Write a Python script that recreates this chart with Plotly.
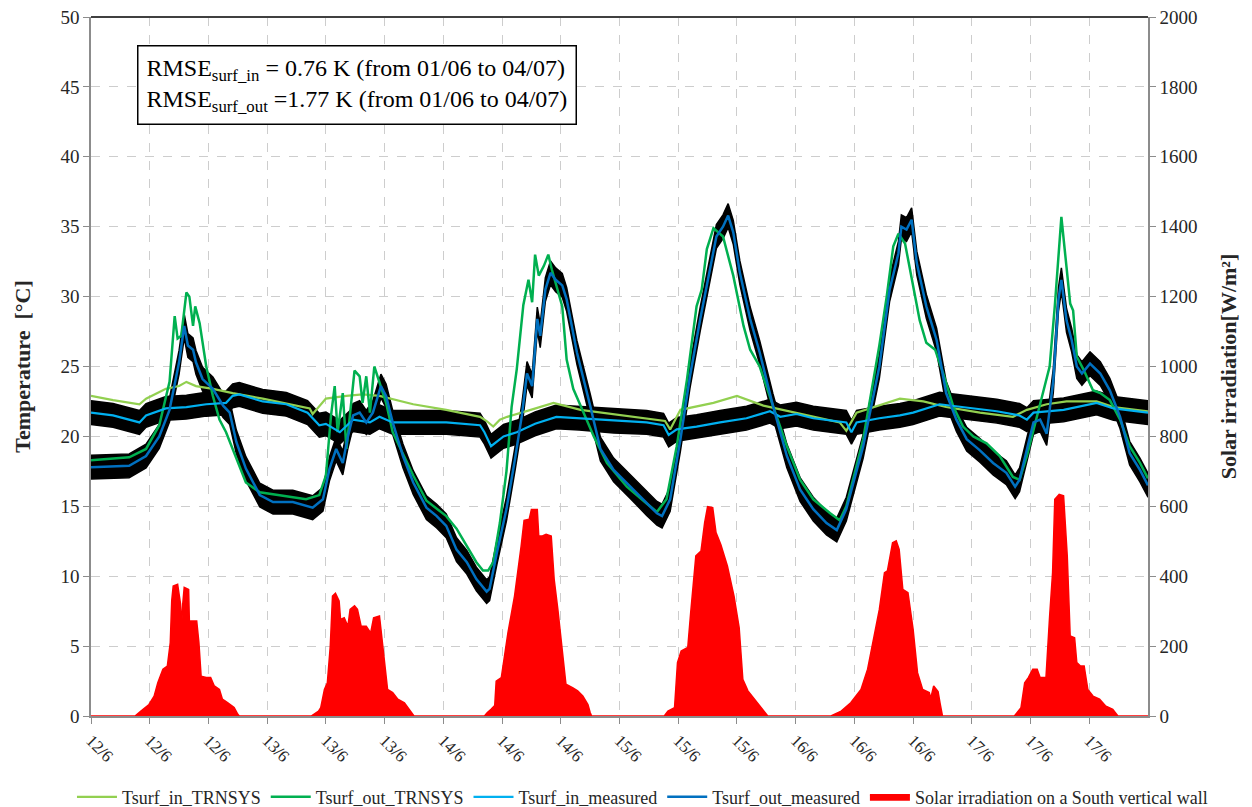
import numpy as np
import plotly.graph_objects as go

# ---- time axis (hours from 12/6 00:00) and tick labels ----
tick_hours = list(range(0, 137, 8))
tick_labels = ["12/6", "12/6", "12/6", "13/6", "13/6", "13/6", "14/6", "14/6", "14/6",
               "15/6", "15/6", "15/6", "16/6", "16/6", "16/6", "17/6", "17/6", "17/6"]

# ---- Tsurf_in_TRNSYS ----
in_trnsys_h = [0, 3, 6.6, 7.5, 10.2, 12, 13, 14.3, 16.6, 19.3, 23.4, 28, 29.8, 30.2, 32, 34.8,
               37, 39.3, 43.9, 48.4, 53, 53.9, 54.8, 55.7, 56.7, 59.9, 63, 66.7, 71.2, 75.7,
               78.2, 78.9, 80.3, 84.8, 88, 91.6, 96.1, 102, 102.9, 104.3, 110.2, 113.4, 116.5,
               121.1, 125.6, 127.5, 130.2, 132.9, 137, 139.3, 144]
in_trnsys_T = [22.9, 22.6, 22.3, 22.7, 23.4, 23.6, 23.9, 23.6, 23.4, 23.1, 22.7, 22.2, 22.0,
               21.6, 22.7, 22.9, 23.0, 22.9, 22.3, 21.9, 21.4, 21.1, 20.7, 21.2, 21.4, 21.9,
               22.4, 21.9, 21.6, 21.3, 21.1, 20.5, 21.9, 22.4, 22.9, 22.2, 21.7, 21.0, 20.4,
               21.7, 22.7, 22.5, 22.1, 21.7, 21.4, 21.9, 22.3, 22.5, 22.5, 22.1, 21.8]

# ---- Tsurf_out_TRNSYS ----
out_trnsys_h = [0, 5.2, 7.5, 9.3, 10.7, 11.4, 11.8, 12.3, 13.0, 13.4, 13.9, 14.2, 14.8, 15.7,
                16.6, 17.5, 18.4, 19.8, 21.1, 23.0, 25.7, 29.3, 31.1, 32.0, 32.7, 33.2, 33.6,
                34.3, 34.8, 35.9, 36.6, 37.0, 37.5, 38.0, 38.6, 39.3, 40.2, 41.1, 42.5, 43.9,
                45.7, 47.1, 48.4, 49.8, 51.2, 52.5, 53.4, 54.1, 54.8, 55.7, 56.6, 57.3, 58.0,
                58.9, 59.6, 60.1, 60.5, 61.0, 61.7, 62.3, 62.8, 63.5, 64.2, 64.8, 65.7, 66.7,
                68.5, 70.3, 73.0, 75.7, 77.1, 78.4, 79.8, 81.2, 82.5, 83.2, 83.9, 84.8, 86.1,
                87.5, 88.9, 89.8, 91.1, 92.9, 94.8, 96.6, 98.4, 100.7, 102.0, 102.9, 105.2,
                107.4, 108.4, 109.3, 110.0, 110.9, 112.0, 112.9, 113.8, 115.0, 116.1, 117.5,
                118.8, 120.2, 122.0, 123.8, 125.6, 126.5, 127.5, 128.8, 130.6, 131.3, 132.2,
                132.9, 133.4, 133.8, 134.3, 135.2, 136.5, 137.5, 138.8, 140.2, 141.5, 142.9, 144]
out_trnsys_T = [18.3, 18.5, 19.1, 20.8, 23.9, 28.6, 27.0, 27.2, 30.3, 30.0, 27.9, 29.3, 28.1,
                25.0, 22.9, 21.2, 20.3, 18.4, 16.7, 16.0, 15.8, 15.5, 15.8, 17.2, 21.5, 23.6,
                20.3, 23.1, 19.1, 24.7, 24.3, 22.4, 24.3, 21.7, 25.0, 23.8, 22.4, 20.3, 18.8,
                17.2, 15.4, 14.8, 14.3, 13.4, 12.2, 11.0, 10.4, 10.4, 11.0, 13.8, 17.5, 22.1,
                24.8, 29.4, 31.2, 29.6, 33.0, 31.5, 32.2, 33.0, 31.9, 30.5, 29.3, 25.5, 23.4,
                22.2, 20.0, 18.1, 16.4, 15.2, 14.6, 15.5, 19.3, 24.1, 29.3, 30.5, 33.4, 34.9,
                34.3, 31.5, 27.9, 26.2, 25.0, 22.2, 19.3, 16.9, 15.5, 14.5, 14.0, 15.0, 19.8,
                26.5, 30.0, 33.6, 34.5, 33.8, 30.7, 28.3, 26.7, 26.2, 24.5, 22.1, 20.7, 20.0,
                19.5, 18.6, 17.1, 16.9, 18.6, 21.2, 25.0, 29.3, 35.7, 32.1, 29.5, 29.0, 25.7,
                24.8, 23.3, 23.1, 22.6, 21.2, 19.3, 18.1, 17.0]

# ---- Tsurf_in_measured ----
in_meas_h = [0, 3, 6.6, 7.5, 10.2, 13.0, 15.7, 18.4, 19.3, 20.2, 23.4, 26.6, 29.5, 31.1, 32.0,
             33.9, 35.7, 38.0, 39.3, 41.1, 43.9, 48.4, 53.0, 53.6, 54.5, 55.7, 56.2, 58.0,
             60.5, 63.4, 66.5, 71.2, 75.7, 78.0, 78.7, 79.8, 82.5, 85.7, 89.3, 92.5, 93.9,
             96.1, 98.4, 102.9, 103.6, 104.3, 107.4, 110.2, 112.0, 115.6, 118.8, 123.4,
             126.5, 127.5, 128.4, 132.5, 137.0, 139.3, 144]
in_meas_T = [21.7, 21.5, 21.0, 21.5, 22.0, 22.1, 22.3, 22.4, 22.9, 23.0, 22.5, 22.3, 21.7,
             20.8, 20.9, 20.3, 21.2, 21.0, 21.4, 21.0, 21.0, 21.0, 20.8, 20.3, 19.3, 19.8,
             20.0, 20.3, 20.9, 21.4, 21.3, 21.1, 21.0, 20.8, 20.1, 20.5, 20.7, 21.0, 21.3,
             21.8, 21.4, 21.6, 21.3, 21.0, 20.3, 21.0, 21.3, 21.5, 21.7, 22.3, 22.1, 21.8,
             21.5, 21.2, 21.7, 21.9, 22.4, 22.0, 21.7]

# ---- Tsurf_out_measured ----
out_meas_h = [0, 5.2, 7.5, 9.3, 10.7, 11.6, 12.0, 12.7, 13.2, 13.9, 14.3, 15.2, 16.6, 18.0,
              18.9, 19.8, 21.1, 23.0, 24.8, 27.5, 30.2, 31.6, 32.5, 33.4, 34.3, 35.0, 35.7,
              36.6, 37.5, 38.4, 39.5, 40.2, 41.1, 42.5, 43.9, 45.7, 47.1, 48.4, 49.8, 51.2,
              52.5, 53.9, 54.3, 55.3, 56.6, 57.8, 58.7, 59.4, 60.1, 60.8, 61.2, 61.9, 62.6,
              63.3, 64.2, 64.8, 66.2, 68.0, 69.4, 71.2, 73.5, 75.7, 77.1, 77.8, 78.9, 80.3,
              81.6, 83.0, 84.3, 85.2, 86.1, 86.8, 87.5, 88.4, 89.8, 91.1, 92.9, 94.8, 96.6,
              98.4, 100.2, 101.6, 102.9, 105.2, 107.4, 108.8, 110.0, 110.4, 111.1, 111.8,
              112.5, 113.8, 115.2, 116.5, 117.9, 119.3, 121.1, 122.9, 124.7, 125.9, 126.5,
              127.5, 128.4, 129.3, 130.2, 131.1, 131.8, 132.2, 132.9, 133.6, 134.3, 135.0,
              136.1, 137.5, 138.8, 140.2, 141.5, 142.9, 144]
out_meas_T = [17.8, 17.9, 18.6, 20.0, 21.9, 24.3, 25.3, 27.9, 26.5, 26.2, 25.3, 24.1, 23.4,
              22.2, 21.7, 19.6, 17.7, 15.8, 15.3, 15.3, 14.9, 15.5, 17.7, 19.1, 18.1, 20.0,
              21.5, 21.7, 21.0, 21.7, 23.6, 22.9, 21.0, 18.6, 16.7, 14.9, 14.3, 13.6, 11.9,
              11.0, 9.8, 8.9, 9.1, 11.7, 14.8, 18.5, 21.5, 24.5, 23.6, 28.4, 27.2, 30.5, 31.7,
              31.2, 30.8, 29.8, 26.0, 22.2, 19.1, 17.6, 16.4, 15.2, 14.5, 14.3, 15.5, 19.8,
              24.3, 28.4, 31.9, 34.3, 35.0, 35.8, 34.6, 31.7, 28.4, 26.0, 22.2, 18.6, 16.2,
              14.8, 13.8, 13.3, 14.8, 19.3, 25.0, 30.5, 33.1, 35.0, 34.8, 35.5, 32.4, 29.3,
              26.9, 23.1, 21.2, 19.8, 19.0, 18.1, 17.4, 16.4, 16.9, 19.0, 21.0, 21.2, 20.2,
              24.0, 29.8, 31.2, 28.3, 26.9, 25.0, 24.5, 25.2, 24.5, 23.3, 21.4, 18.8, 17.6, 16.5]

# ---- Solar irradiation on a South vertical wall [W/m2] ----
solar_h = [0, 6.0, 6.8, 7.9, 8.6, 9.1, 9.8, 10.4, 10.8, 11.0, 11.2, 11.8, 12.2, 12.35, 12.5,
           12.7, 13.3, 13.4, 14.4, 14.7, 15.0, 15.7, 16.3, 16.8, 17.5, 17.9, 18.6, 19.5, 20.0,
           20.2,
           30.0, 31.0, 31.3, 31.8, 32.2, 32.6, 32.9, 33.3, 33.8, 34.0, 34.5, 35.0, 35.3, 35.9,
           36.3, 36.8, 37.5, 38.1, 38.5, 39.3, 39.5, 39.9, 40.4, 41.1, 41.8, 42.7, 43.6, 44.0,
           53.6, 54.0, 54.5, 55.0, 55.2, 55.9, 56.8, 57.7, 58.6, 59.0, 59.7, 60.0, 60.8, 61.0,
           61.5, 62.0, 62.7, 63.1, 63.6, 64.3, 64.7, 65.6, 66.3, 67.0, 67.7, 68.0, 68.2,
           78.1, 78.6, 79.5, 79.9, 80.4, 81.3, 81.7, 82.4, 83.1, 83.6, 84.0, 84.7, 85.15, 85.8,
           86.7, 87.6, 88.3, 88.8, 89.5, 90.4, 91.3, 92.0, 92.2,
           100.8, 102.2, 103.5, 104.9, 105.8, 106.5, 107.4, 108.1, 108.5, 109.2, 109.7, 110.1,
           110.6, 111.3, 112.0, 112.6, 113.3, 114.2, 114.4, 114.8, 115.4, 115.7, 116.0,
           125.8, 126.7, 127.2, 127.7, 128.3, 128.9, 129.3, 130.1, 130.6, 131.0, 131.3, 131.9,
           132.5, 133.0, 133.4, 134.0, 134.3, 134.8, 135.3, 135.8, 136.5, 137.4, 138.2, 139.2,
           139.9, 144]
solar_W = [0, 0, 14, 33, 57, 95, 134, 143, 210, 330, 372, 377, 320, 257, 320,
           368, 362, 272, 272, 210, 114, 110, 110, 86, 76, 48, 38, 24, 5,
           0,
           0, 14, 24, 76, 95, 200, 343, 351, 329, 276, 281, 257, 305, 315,
           305, 257, 257, 238, 281, 286, 248, 172, 76, 67, 48, 38, 10, 0,
           0, 10, 19, 30, 100, 110, 238, 343, 486, 560, 563, 591, 591, 515,
           515, 520, 515, 391, 305, 172, 91, 81, 72, 57, 33, 10, 0,
           0, 14, 24, 153, 186, 196, 296, 458, 472, 553, 599, 596, 525, 491,
           429, 343, 253, 105, 72, 48, 24, 5, 0,
           0, 14, 38, 76, 134, 210, 305, 410, 415, 496, 501, 477,
           362, 353, 248, 124, 76, 67, 50, 86, 70, 33, 0,
           0, 24, 95, 110, 134, 134, 110, 110, 286, 410, 620, 634,
           630, 458, 229, 224, 153, 143, 143, 76, 57, 48, 29, 19,
           0, 0]

MEAS_BAND = 0.85  # half-width of the measurement scatter band [K]

SERIF = "Liberation Serif, Times New Roman, serif"
TXT = "#262626"
AXIS_GREY = "#8c8c8c"
GRID_GREY = "#cdcdcd"

fig = go.Figure()


def add_band(h, t):
    t = np.asarray(t, dtype=float)
    xs = list(h) + list(h[::-1])
    ys = list(t + MEAS_BAND) + list((t - MEAS_BAND)[::-1])
    fig.add_trace(go.Scatter(x=xs, y=ys, fill="toself", fillcolor="black",
                             line=dict(color="black", width=1.5), mode="lines",
                             showlegend=False, hoverinfo="skip"))


add_band(in_meas_h, in_meas_T)
add_band(out_meas_h, out_meas_T)

fig.add_trace(go.Scatter(x=in_trnsys_h, y=in_trnsys_T, mode="lines", name="Tsurf_in_TRNSYS",
                         line=dict(color="#92D050", width=2.2)))
fig.add_trace(go.Scatter(x=out_trnsys_h, y=out_trnsys_T, mode="lines", name="Tsurf_out_TRNSYS",
                         line=dict(color="#00B050", width=2.5)))
fig.add_trace(go.Scatter(x=in_meas_h, y=in_meas_T, mode="lines", name="Tsurf_in_measured",
                         line=dict(color="#00B0F0", width=2.2)))
fig.add_trace(go.Scatter(x=out_meas_h, y=out_meas_T, mode="lines", name="Tsurf_out_measured",
                         line=dict(color="#0070C0", width=2.5)))
fig.add_trace(go.Scatter(x=solar_h, y=solar_W, mode="lines", yaxis="y2",
                         name="Solar irradiation on a South vertical wall",
                         fill="tozeroy", fillcolor="#FF0000",
                         line=dict(color="#FF0000", width=1.5)))

tick_font = dict(family=SERIF, size=19, color=TXT)

fig.update_layout(
    width=1252, height=807,
    margin=dict(l=91, r=104, t=17, b=91, autoexpand=False),
    paper_bgcolor="white", plot_bgcolor="white",
    showlegend=True,
    legend=dict(orientation="h", x=-0.018, xanchor="left", y=-0.116, yanchor="middle",
                font=dict(family=SERIF, size=18, color=TXT),
                bgcolor="rgba(0,0,0,0)", itemwidth=40, tracegroupgap=0),
    xaxis=dict(range=[0, 144], tickmode="array", tickvals=tick_hours, ticktext=tick_labels,
               tickangle=45, ticks="outside", ticklen=6, tickcolor=AXIS_GREY,
               showline=True, linecolor=AXIS_GREY, linewidth=1.5,
               showgrid=True, gridcolor=GRID_GREY, griddash="dash", gridwidth=1,
               zeroline=False, tickfont=dict(family=SERIF, size=17, color=TXT),
               automargin=False),
    yaxis=dict(range=[0, 50], dtick=5, ticks="outside", ticklen=6, tickcolor=AXIS_GREY,
               showline=True, linecolor=AXIS_GREY, linewidth=1.5,
               showgrid=True, gridcolor=GRID_GREY, griddash="dash", gridwidth=1,
               zeroline=False, tickfont=tick_font, automargin=False,
               title=dict(text="<b>Temperature  [°C]</b>", standoff=24,
                          font=dict(family=SERIF, size=22, color=TXT))),
    yaxis2=dict(range=[0, 2000], dtick=200, overlaying="y", side="right",
                ticks="outside", ticklen=6, tickcolor=AXIS_GREY,
                showline=True, linecolor=AXIS_GREY, linewidth=1.5,
                showgrid=False, zeroline=False, tickfont=tick_font, automargin=False,
                title=dict(text="<b>Solar irradiation[W/m²]</b>", standoff=24,
                           font=dict(family=SERIF, size=22, color=TXT))),
    shapes=[dict(type="line", xref="paper", yref="paper", x0=0, x1=1, y0=1, y1=1,
                 line=dict(color="#404040", width=2))],
    annotations=[dict(
        xref="paper", yref="paper", x=0.0435, y=0.96, xanchor="left", yanchor="top",
        text=("RMSE<sub>surf_in</sub> = 0.76 K (from 01/06 to 04/07)<br>"
              "RMSE<sub>surf_out</sub> =1.77 K (from 01/06 to 04/07)"),
        align="left", showarrow=False, bgcolor="white",
        bordercolor="black", borderwidth=1.5, borderpad=8,
        font=dict(family=SERIF, size=24, color="black"))],
)

fig.write_html("out.html")
